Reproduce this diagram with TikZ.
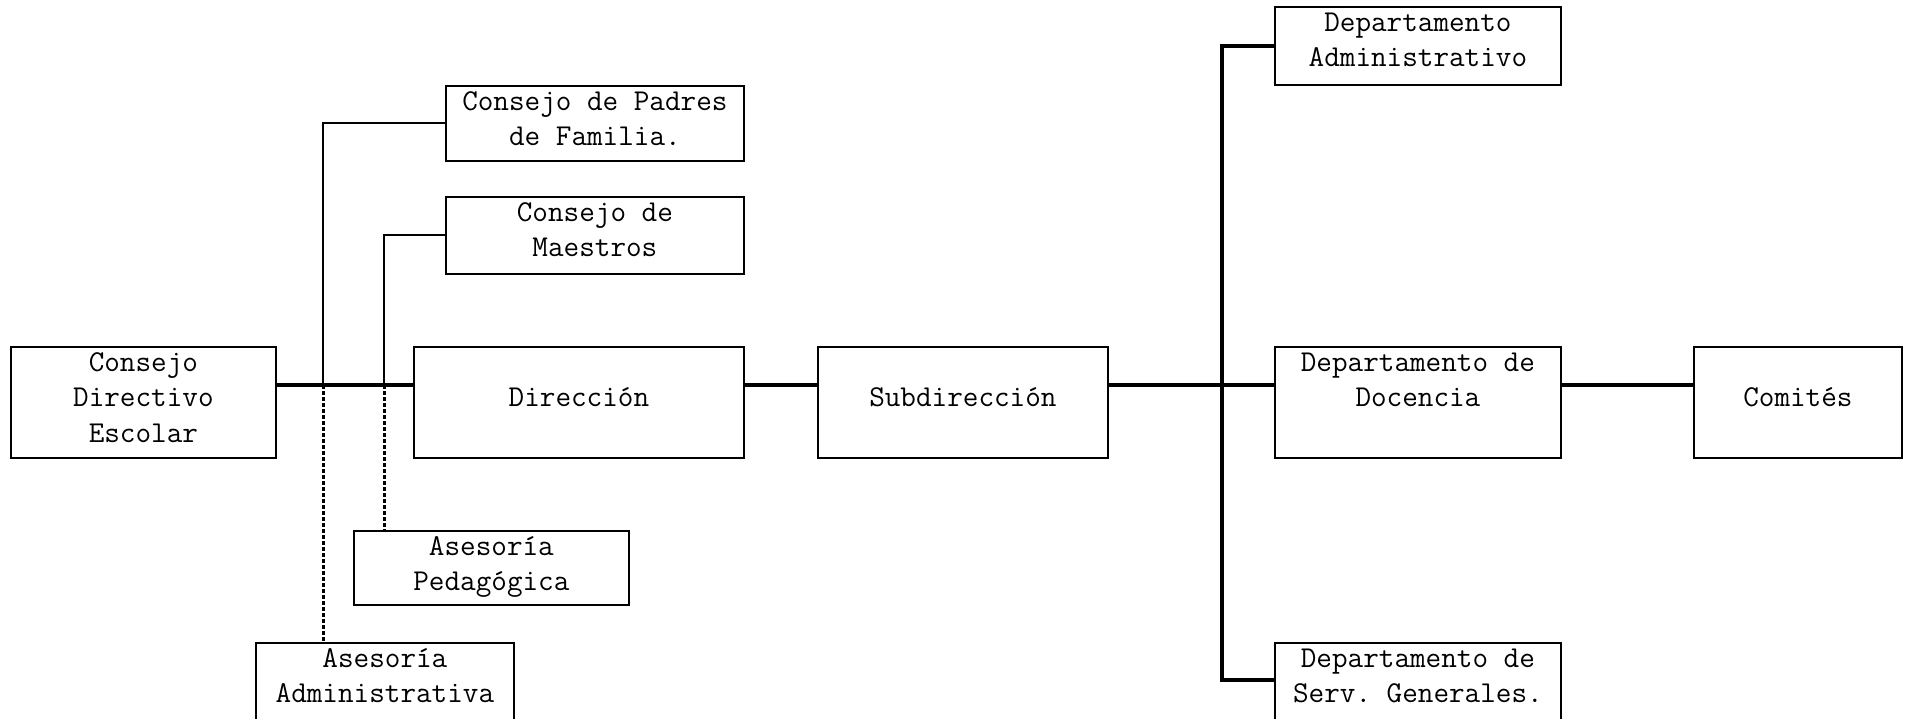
\documentclass[tikz,border=0pt]{standalone}
\usetikzlibrary{calc}
% top-aligned, centred text block of fixed size (width, height in pt)
\newcommand{\orgtext}[3]{\parbox[t][#2pt][t]{#1pt}{\centering\strut #3}}
\begin{document}
\begin{tikzpicture}[x=1pt,y=-1pt,
  unit/.style={draw=black,line width=1.8pt,inner sep=0pt,anchor=north west,
    font=\fontsize{30.3}{35.3}\selectfont\ttfamily\frenchspacing},
  mainline/.style={draw=black,line width=3.6pt},
  thinline/.style={draw=black,line width=1.8pt},
  advisory/.style={draw=black,line width=3pt,dash pattern=on 3.5pt off 2.5pt}]
\useasboundingbox (0,0) rectangle (1910,719);

% organisational units
\node[unit] (cde) at (10,346)   {\orgtext{265}{111}{Consejo\\Directivo\\Escolar}};
\node[unit] (padres) at (445,85) {\orgtext{298}{75}{Consejo de Padres\\de Familia.}};
\node[unit] (maestros) at (445,196) {\orgtext{298}{77}{Consejo de\\Maestros}};
\node[unit] (dir) at (413,346)  {\orgtext{330}{111}{\\Dirección}};
\node[unit] (sub) at (817,346)  {\orgtext{290}{111}{\\Subdirección}};
\node[unit] (da) at (1274,6)    {\orgtext{286}{78}{Departamento\\Administrativo}};
\node[unit] (doc) at (1274,346) {\orgtext{286}{111}{Departamento de\\Docencia}};
\node[unit] (com) at (1693,346) {\orgtext{208}{111}{\\Comités}};
\node[unit] (dsg) at (1274,642) {\orgtext{286}{95}{Departamento de\\Serv. Generales.}};
\node[unit] (ped) at (353,530)  {\orgtext{275}{74}{Asesoría\\Pedagógica}};
\node[unit] (aa) at (255,642)   {\orgtext{258}{95}{Asesoría\\Administrativa}};

% junctions on the main line of authority
\coordinate (m) at (0,385);
\coordinate (j1) at (323,385);
\coordinate (j2) at (384,385);
\coordinate (bus) at (1222,385);

% main line
\draw[mainline] (cde.east |- m) -- (dir.west |- m);
\draw[mainline] (dir.east |- m) -- (sub.west |- m);
\draw[mainline] (sub.east |- m) -- (doc.west |- m);
\draw[mainline] (doc.east |- m) -- (com.west |- m);

% departments bus
\draw[mainline] (da.west) -| (bus) |- ($(dsg.north west)+(0,38)$);

% councils
\draw[thinline] (padres.west) -| (j1);
\draw[thinline] (maestros.west) -| (j2);

% advisory (dotted) links
\draw[advisory] (j1) -- (aa.north -| j1);
\draw[advisory] (j2) -- (ped.north -| j2);
\end{tikzpicture}
\end{document}
